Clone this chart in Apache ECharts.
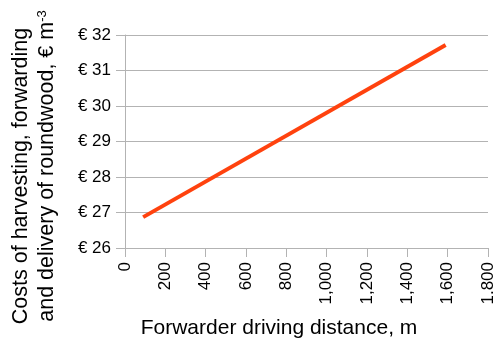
<!DOCTYPE html>
<html><head><meta charset="utf-8">
<script src="https://cdn.jsdelivr.net/npm/echarts@6/dist/echarts.min.js"></script>
<style>html,body{margin:0;padding:0;background:#fff}#c{width:493px;height:339px}</style>
</head><body><div id="c"></div>
<script>
const distances = [90, 1590];
const costs = [26.87, 31.72];
const xTicks = [0, 200, 400, 600, 800, 1000, 1200, 1400, 1600, 1800];
const yTicks = [26, 27, 28, 29, 30, 31, 32];
const xTitle = 'Forwarder driving distance, m';
const yTitle1 = 'Costs of harvesting, forwarding';
const yTitle2 = 'and delivery of roundwood, € m';

const font = '"Liberation Sans", Arial, sans-serif';
const chart = echarts.init(document.getElementById('c'));
chart.setOption({
  animation: false,
  grid: {left: 125, right: 5, top: 35, bottom: 91, outerBoundsMode: 'none', containLabel: false},
  xAxis: {
    type: 'value', min: xTicks[0], max: xTicks[xTicks.length-1], interval: 200,
    axisLine: {show: true, lineStyle: {color: '#b3b3b3'}},
    axisTick: {show: true, length: 9, lineStyle: {color: '#b3b3b3'}},
    splitLine: {show: false},
    axisLabel: {rotate: 90, margin: 14, fontSize: 17, color: '#000', fontFamily: font,
      formatter: v => v.toLocaleString('en-US')}
  },
  yAxis: {
    type: 'value', min: yTicks[0], max: yTicks[yTicks.length-1], interval: 1,
    axisLine: {show: true, lineStyle: {color: '#b3b3b3'}},
    axisTick: {show: true, length: 9, lineStyle: {color: '#b3b3b3'}},
    splitLine: {show: true, lineStyle: {color: '#b3b3b3'}},
    axisLabel: {margin: 14, fontSize: 17, color: '#000', fontFamily: font,
      formatter: v => '€ ' + v}
  },
  graphic: [
    {type: 'text', x: 279, y: 328,
      style: {text: xTitle, fontSize: 21, fontFamily: font, fill: '#000', align: 'center', verticalAlign: 'middle'}},
    {type: 'text', x: 21, y: 176, rotation: Math.PI/2,
      style: {text: yTitle1, fontSize: 21.5, fontFamily: font, fill: '#000', align: 'center', verticalAlign: 'middle'}},
    {type: 'text', x: 47, y: 166, rotation: Math.PI/2,
      style: {text: '{a|' + yTitle2 + '}{s|-3}', fontFamily: font, fill: '#000', align: 'center', verticalAlign: 'middle',
        rich: {a: {fontSize: 21.5, fontFamily: font, fill: '#000'}, s: {fontSize: 13, fontFamily: font, fill: '#000', verticalAlign: 'top', padding: [0,0,10,0]}}}}
  ],
  series: [{
    type: 'line', data: distances.map((d, i) => [d, costs[i]]),
    symbol: 'none', lineStyle: {color: '#ff420e', width: 4}
  }]
});
</script></body></html>
